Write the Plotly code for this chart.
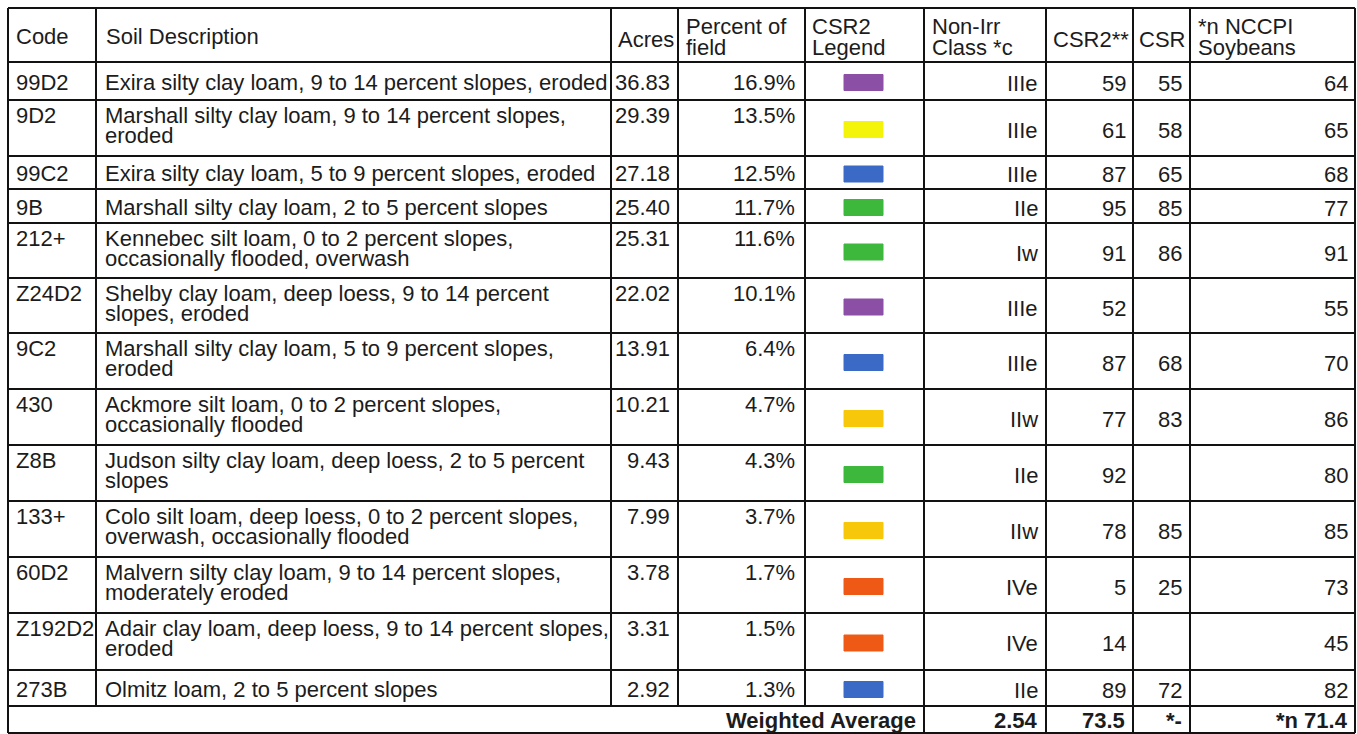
import plotly.graph_objects as go

# ---------------- data ----------------
codes = ["99D2", "9D2", "99C2", "9B", "212+", "Z24D2", "9C2", "430", "Z8B",
         "133+", "60D2", "Z192D2", "273B"]
descriptions = [
    "Exira silty clay loam, 9 to 14 percent slopes, eroded",
    "Marshall silty clay loam, 9 to 14 percent slopes,|eroded",
    "Exira silty clay loam, 5 to 9 percent slopes, eroded",
    "Marshall silty clay loam, 2 to 5 percent slopes",
    "Kennebec silt loam, 0 to 2 percent slopes,|occasionally flooded, overwash",
    "Shelby clay loam, deep loess, 9 to 14 percent|slopes, eroded",
    "Marshall silty clay loam, 5 to 9 percent slopes,|eroded",
    "Ackmore silt loam, 0 to 2 percent slopes,|occasionally flooded",
    "Judson silty clay loam, deep loess, 2 to 5 percent|slopes",
    "Colo silt loam, deep loess, 0 to 2 percent slopes,|overwash, occasionally flooded",
    "Malvern silty clay loam, 9 to 14 percent slopes,|moderately eroded",
    "Adair clay loam, deep loess, 9 to 14 percent slopes,|eroded",
    "Olmitz loam, 2 to 5 percent slopes",
]
acres = [36.83, 29.39, 27.18, 25.40, 25.31, 22.02, 13.91, 10.21, 9.43, 7.99, 3.78, 3.31, 2.92]
percent_of_field = [16.9, 13.5, 12.5, 11.7, 11.6, 10.1, 6.4, 4.7, 4.3, 3.7, 1.7, 1.5, 1.3]
legend_colors = ["#8C4FA6", "#F4F40A", "#3A6AC6", "#3DB83D", "#3DB83D", "#8C4FA6",
                 "#3A6AC6", "#F7C70C", "#3DB83D", "#F7C70C", "#EE5A16", "#EE5A16", "#3A6AC6"]
non_irr_class = ["IIIe", "IIIe", "IIIe", "IIe", "Iw", "IIIe", "IIIe", "IIw", "IIe",
                 "IIw", "IVe", "IVe", "IIe"]
csr2 = [59, 61, 87, 95, 91, 52, 87, 77, 92, 78, 5, 14, 89]
csr = [55, 58, 65, 85, 86, None, 68, 83, None, 85, 25, None, 72]
nccpi_soybeans = [64, 65, 68, 77, 91, 55, 70, 86, 80, 85, 73, 45, 82]

headers = ["Code", "Soil Description", "Acres", "Percent of|field", "CSR2|Legend",
           "Non-Irr|Class *c", "CSR2**", "CSR", "*n NCCPI|Soybeans"]
footer_label = "Weighted Average"
footer_values = ["2.54", "73.5", "*-", "*n 71.4"]

# ---------------- layout constants ----------------
W, H = 1357, 734
COL_X = [8, 96, 611, 678, 805, 924, 1046, 1133, 1190, 1355]
HEAD_TOP = 8
ROW_Y = [62, 100, 156, 189, 223, 278, 333, 389, 445, 501, 557, 613, 670, 706]
BOTTOM = 733
FONT = "Liberation Sans, Arial, Helvetica, sans-serif"
FS = 22
TXT = "#1c1c1c"
LINE = "#121212"

fig = go.Figure()
shapes = []
ann = []


def text(x, y, s, anchor="left", bold=False):
    ann.append(dict(x=x, y=y, xref="x", yref="y", text=f"<b>{s}</b>" if bold else s,
                    showarrow=False, xanchor=anchor, yanchor="middle",
                    font=dict(family=FONT, size=FS, color=TXT)))


def line(x0, y0, x1, y1, w=2):
    shapes.append(dict(type="line", xref="x", yref="y", x0=x0, y0=y0, x1=x1, y1=y1,
                       line=dict(color=LINE, width=w)))


# grid lines
for y in [HEAD_TOP] + ROW_Y:
    line(COL_X[0], y, COL_X[-1], y)
line(COL_X[0], BOTTOM, COL_X[-1], BOTTOM)
for x in COL_X:
    line(x, HEAD_TOP, x, ROW_Y[-1])
for x in [COL_X[0], COL_X[5], COL_X[6], COL_X[7], COL_X[8], COL_X[9]]:
    line(x, ROW_Y[-1], x, BOTTOM)

# header
head_left = [14, 104, 616, 684, 810, 930, 1051, 1137, 1196]
for i, h in enumerate(headers):
    parts = h.split("|")
    if len(parts) == 1:
        yy = 36 if i < 2 else 39
        text(head_left[i], yy, parts[0])
    else:
        text(head_left[i], 26, parts[0])
        text(head_left[i], 47, parts[1])

# body
for r in range(len(codes)):
    top, bot = ROW_Y[r], ROW_Y[r + 1]
    mid = (top + bot) / 2
    lines = descriptions[r].split("|")
    two = len(lines) > 1
    y_first = top + 15.5 if two else mid + 1
    y_second = top + 35.5
    y_right = top + 30 if two else mid + 2
    text(COL_X[0] + 6, y_first, codes[r])
    text(COL_X[1] + 7, y_first, lines[0])
    if two:
        text(COL_X[1] + 7, y_second, lines[1])
    text(COL_X[3] - 6, y_first, f"{acres[r]:.2f}", "right")
    text(COL_X[4] - 8, y_first, f"{percent_of_field[r]:.1f}%", "right")
    cx = (COL_X[4] + COL_X[5]) / 2 - 1
    shapes.append(dict(type="rect", xref="x", yref="y", x0=cx - 19.5, x1=cx + 19.5,
                       y0=mid - 6.5, y1=mid + 9.5, fillcolor=legend_colors[r],
                       line=dict(color=legend_colors[r], width=1)))
    text(COL_X[6] - 6, y_right, non_irr_class[r], "right")
    text(COL_X[7] - 5, y_right, str(csr2[r]), "right")
    if csr[r] is not None:
        text(COL_X[8] - 6, y_right, str(csr[r]), "right")
    text(COL_X[9] - 5, y_right, str(nccpi_soybeans[r]), "right")

# footer
fy = 720
text(COL_X[5] - 6, fy, footer_label, "right", bold=True)
text(COL_X[6] - 6, fy, footer_values[0], "right", bold=True)
text(COL_X[7] - 6, fy, footer_values[1], "right", bold=True)
text(COL_X[8] - 6, fy, footer_values[2], "right", bold=True)
text(COL_X[9] - 5, fy, footer_values[3], "right", bold=True)

fig.update_layout(
    width=W, height=H, margin=dict(l=0, r=0, t=0, b=0),
    paper_bgcolor="white", plot_bgcolor="white",
    xaxis=dict(range=[0, W], visible=False, fixedrange=True),
    yaxis=dict(range=[H, 0], visible=False, fixedrange=True),
    shapes=shapes, annotations=ann, showlegend=False,
)
fig.write_html(
    "out.html",
    config={"displayModeBar": False},
    post_script="document.body.style.margin='0';document.body.style.overflow='hidden';",
)
